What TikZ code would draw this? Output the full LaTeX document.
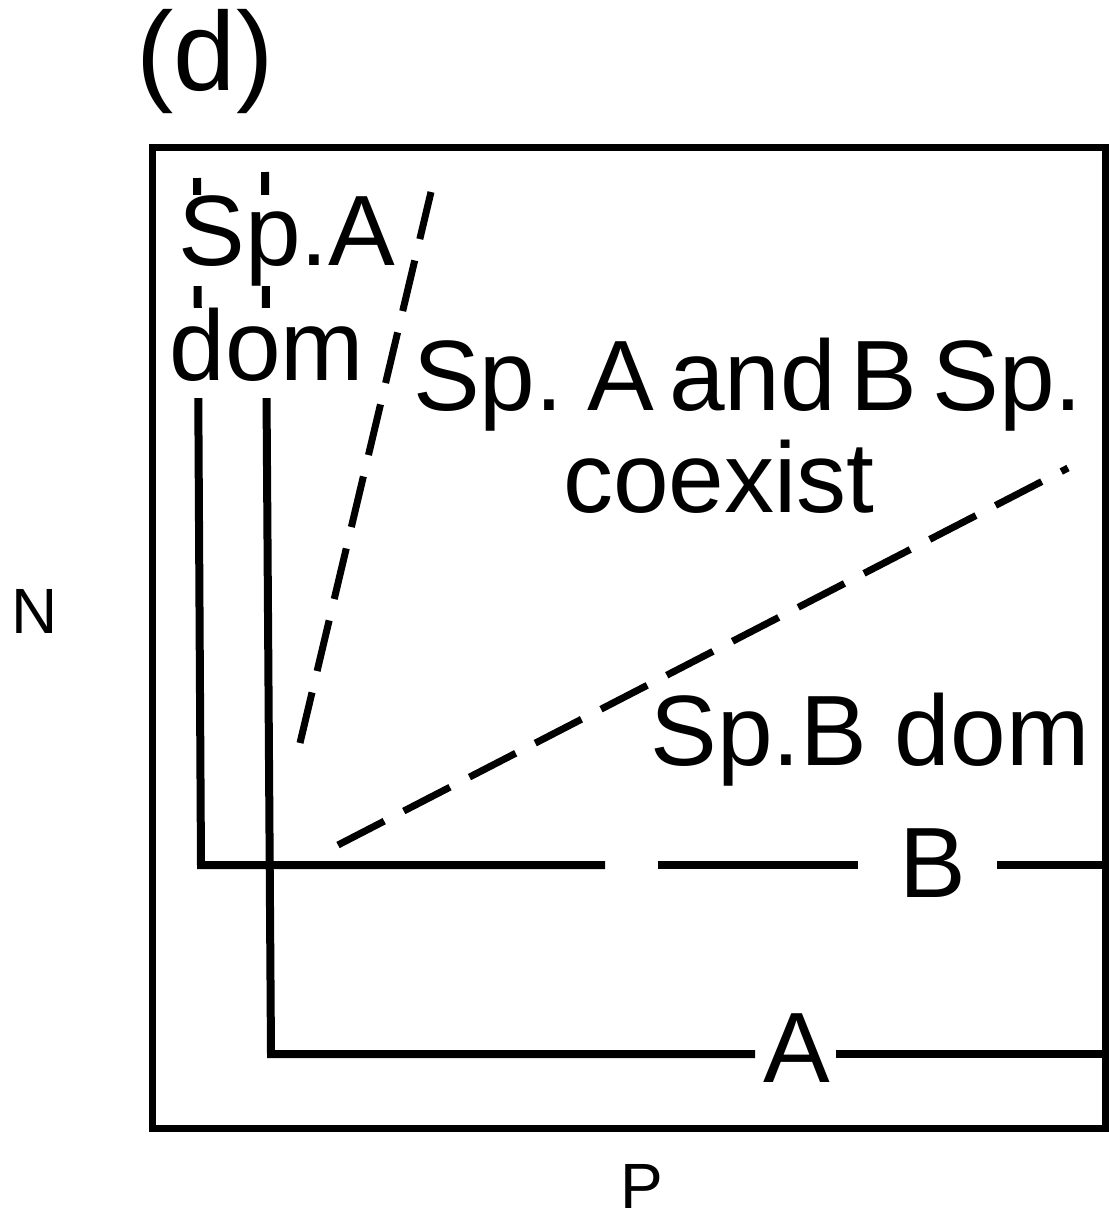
\documentclass[tikz,border=0pt]{standalone}
\usepackage{fontspec}
\setmainfont{Liberation Sans}
\usetikzlibrary{positioning}

\begin{document}
\begin{tikzpicture}[x=0.5pt, y=-0.5pt]
  \tikzset{
    frame/.style={line width=3.5pt},
    zngi/.style={line width=4pt, line cap=butt, line join=miter},
    boundary/.style={line width=3.5pt, dash pattern=on 26pt off 11pt},
    lbl/.style={font=\fontsize{50}{56}\selectfont, inner sep=0pt, anchor=base},
    masklbl/.style={lbl, fill=white},
    axlbl/.style={font=\fontsize{32}{36}\selectfont, inner sep=0pt},
  }
\useasboundingbox (0,0) rectangle (1109,1217);

% ── Panel tag ─────────────────────────────────────────────────
\node[font=\fontsize{56}{60}\selectfont, inner sep=0pt, anchor=base] (tag) at (205,90) {(d)};

% ── Frame and axis names ──────────────────────────────────────
\coordinate (sw) at (152,1128);
\coordinate (ne) at (1105,147);
\draw[frame] (sw) rectangle (ne);
\node[axlbl] (nAx) at (35,611) {N};
\node[axlbl] (pAx) at (642,1186) {P};

% ── ZNGI of species B ─────────────────────────────────────────
\coordinate (bTop)    at (197,178);
\coordinate (bCorner) at (201,865);
\coordinate (bGapL)   at (605,865);
\coordinate (bGapR)   at (658,865);
\coordinate (bCutL)   at (858,865);
\coordinate (bCutR)   at (997,865);
\coordinate (bEnd)    at (1105,865);
\draw[zngi] (bTop) -- (bCorner) -- (bGapL);
\draw[zngi] (bGapR) -- (bCutL);
\draw[zngi] (bCutR) -- (bEnd);
\node[lbl] (labB) at (933,897) {B};

% ── ZNGI of species A ─────────────────────────────────────────
\coordinate (aTop)    at (265,172);
\coordinate (aCorner) at (271,1054);
\coordinate (aCutL)   at (755,1054);
\coordinate (aCutR)   at (836,1054);
\coordinate (aEnd)    at (1105,1054);
\draw[zngi] (aTop) -- (aCorner) -- (aCutL);
\draw[zngi] (aCutR) -- (aEnd);
\node[lbl] (labA) at (797,1082) {A};

% ── Boundaries of the coexistence region ──────────────────────
\coordinate (steepLo) at (300,743);
\coordinate (steepHi) at (431,192);
\coordinate (flatLo)  at (338,845);
\coordinate (flatHi)  at (1068,468);
\draw[boundary] (steepLo) -- (steepHi);
\draw[boundary] (flatLo) -- (flatHi);

% ── Region labels ─────────────────────────────────────────────
\node[masklbl] (aDom1) at (287,265) {Sp.A};
\node[masklbl, text depth=9pt] (aDom2) at (267,380) {dom};
\node[lbl] (coex1) at (748,410) {\spaceskip=0.15em Sp. A and B Sp.};
\node[lbl] (coex2) at (719,512) {coexist};
\node[lbl] (bDom) at (870,765) {Sp.B dom};

\end{tikzpicture}
\end{document}
